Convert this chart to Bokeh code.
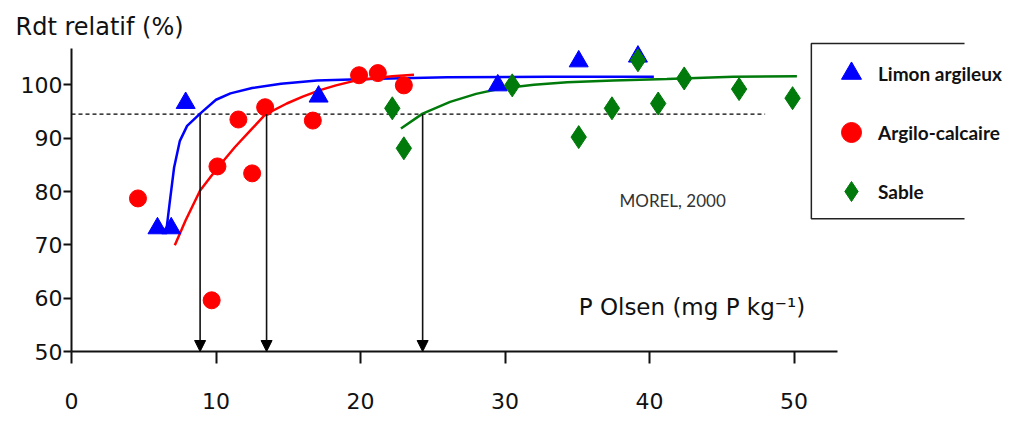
from bokeh.plotting import figure
from bokeh.models import (Range1d, FixedTicker, Legend, LegendItem, Label, Arrow,
                          NormalHead, ColumnDataSource)
from bokeh.embed import file_html
from bokeh.resources import INLINE

# ---------------- data ----------------
x_ticks = [0, 10, 20, 30, 40, 50]
y_ticks = [50, 60, 70, 80, 90, 100]

# Limon argileux (blue triangles)
limon_x = [5.95, 6.9, 7.9, 17.1, 29.5, 35.1, 39.2]
limon_y = [73.1, 73.1, 96.6, 97.8, 99.9, 104.4, 105.3]

# Argilo-calcaire (red circles)
argilo_x = [4.6, 9.7, 10.1, 11.55, 12.5, 13.4, 16.7, 19.9, 21.2, 23.0]
argilo_y = [78.7, 59.6, 84.7, 93.5, 83.4, 95.8, 93.3, 101.8, 102.2, 99.9]

# Sable (green diamonds)
sable_x = [22.2, 23.0, 30.5, 35.1, 37.4, 39.2, 40.6, 42.4, 46.2, 49.9]
sable_y = [95.6, 88.1, 99.9, 90.2, 95.6, 104.6, 96.5, 101.2, 99.2, 97.5]

# fitted curves
limon_fit_x = [6.6, 6.8, 7.1, 7.5, 8.0, 8.9, 10.0, 11.0, 12.5, 14.5, 17.0, 20.5, 26.0, 33.0, 40.3]
limon_fit_y = [73.5, 78.0, 84.5, 89.5, 92.3, 94.6, 97.2, 98.4, 99.4, 100.2, 100.8, 101.1, 101.4, 101.5, 101.5]

argilo_fit_x = [7.15, 7.9, 8.9, 10.1, 11.3, 12.4, 13.4, 14.9, 16.0, 17.2, 18.3, 19.5, 20.8, 22.2, 23.7]
argilo_fit_y = [69.9, 74.6, 80.2, 84.4, 88.3, 91.5, 94.4, 96.5, 97.8, 99.0, 99.9, 100.7, 101.2, 101.6, 101.9]

sable_fit_x = [22.8, 24.3, 26.2, 28.0, 29.7, 32.0, 34.3, 37.5, 41.2, 45.8, 50.2]
sable_fit_y = [91.8, 94.6, 96.8, 98.3, 99.3, 100.0, 100.5, 100.8, 101.1, 101.5, 101.6]

# 95 % threshold and critical P Olsen values
threshold = 94.5
threshold_x = [0, 48]
critical_x = [8.9, 13.5, 24.3]

# ---------------- figure ----------------
FONT = "DejaVu Sans"

p = figure(width=1012, height=422, output_backend="svg", toolbar_location=None,
           x_range=Range1d(0, 65.12), y_range=Range1d(50, 108.125),
           min_border_left=71, min_border_right=0, min_border_top=41,
           min_border_bottom=71)
p.outline_line_color = None
p.xgrid.visible = False
p.ygrid.visible = False
p.background_fill_color = "white"

p.title.text = "Rdt relatif (%)"
p.title.text_font = FONT
p.title.text_font_size = "24px"
p.title.text_font_style = "normal"
p.title.text_color = "#111111"
p.title.align = "left"
p.title.offset = -56
p.title.standoff = 1

for ax, ticks in ((p.xaxis, x_ticks), (p.yaxis, y_ticks)):
    ax.ticker = FixedTicker(ticks=ticks)
    ax.axis_line_width = 2
    ax.axis_line_color = "#111111"
    ax.major_tick_line_width = 2
    ax.major_tick_line_color = "#111111"
    ax.major_tick_in = 0
    ax.minor_tick_line_color = None
    ax.major_label_text_font = FONT
    ax.major_label_text_font_size = "22px"
    ax.major_label_text_color = "#111111"

p.xaxis.bounds = (0, 53)
p.yaxis.bounds = (50, 106.8)
p.xaxis.major_tick_out = 12
p.xaxis.major_label_standoff = 29
p.yaxis.major_tick_out = 8
p.yaxis.major_label_standoff = 1

# threshold dashed line
p.line(threshold_x, [threshold] * len(threshold_x), line_color="black",
       line_width=1.3, line_dash="4 3")

# arrows down to the x axis
arrow_src = ColumnDataSource(dict(x=critical_x,
                                  y0=[threshold] * len(critical_x),
                                  y1=[50] * len(critical_x)))
p.add_layout(Arrow(end=NormalHead(size=11, fill_color="black", line_color="black"),
                   x_start="x", y_start="y0", x_end="x", y_end="y1",
                   source=arrow_src, line_width=1.6, line_color="#111111"))

# fitted curves
p.line(limon_fit_x, limon_fit_y, line_color="#0000FF", line_width=2.5)
p.line(argilo_fit_x, argilo_fit_y, line_color="#FF0000", line_width=2.5)
p.line(sable_fit_x, sable_fit_y, line_color="#007A0A", line_width=2.5)

# points
r_limon = p.scatter(limon_x, limon_y, marker="triangle", size=19,
                    fill_color="#0000FF", line_color="#0000FF")
r_argilo = p.scatter(argilo_x, argilo_y, marker="circle", size=17,
                     fill_color="#FF0000", line_color="#FF0000")
r_sable = p.scatter(sable_x, sable_y, marker="diamond", size=23,
                    fill_color="#007A0A", line_color="#007A0A")

# annotations
p.add_layout(Label(x=35.1, y=58.3, text="P Olsen (mg P kg\u207b\u00b9)",
                   text_font=FONT, text_font_size="23px", text_color="#111111",
                   text_align="left", text_baseline="middle"))
p.add_layout(Label(x=41.6, y=78.3, text="MOREL, 2000",
                   text_font="Lato", text_font_size="17px", text_color="#333333",
                   text_align="center", text_baseline="middle"))

# legend frame: open on the right side, as in the source figure
p.line([61.8, 51.2, 51.2, 61.8], [107.75, 107.75, 74.9, 74.9],
       line_color="#222222", line_width=1.5)

legend = Legend(items=[LegendItem(label="Limon argileux", renderers=[r_limon]),
                       LegendItem(label="Argilo-calcaire", renderers=[r_argilo]),
                       LegendItem(label="Sable", renderers=[r_sable])],
                location=(750, 130), padding=5, spacing=9,
                glyph_width=50, glyph_height=50, label_height=50,
                label_standoff=2, margin=0,
                label_text_font="Lato", label_text_font_size="19px",
                label_text_font_style="bold",
                label_text_color="#111111",
                border_line_alpha=0, background_fill_alpha=0)
p.add_layout(legend)

open("out.html", "w").write(file_html(p, INLINE))
